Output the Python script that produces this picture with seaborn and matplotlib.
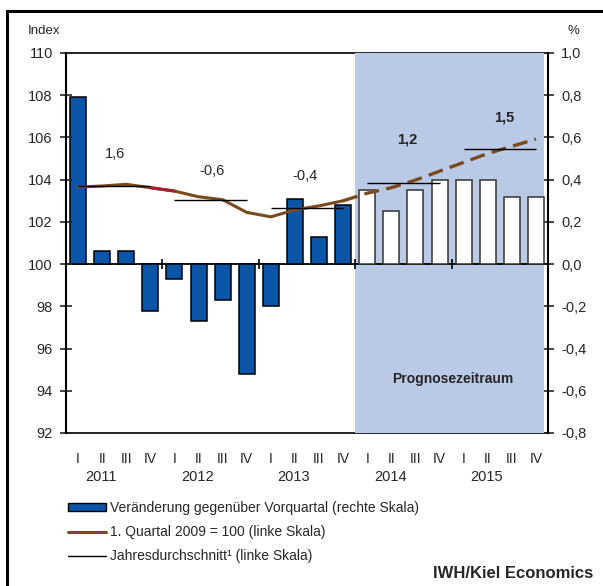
import numpy as np
import pandas as pd
import matplotlib
matplotlib.use('Agg')
import matplotlib.pyplot as plt
import seaborn as sns
from matplotlib.patches import Rectangle, Patch
from matplotlib.lines import Line2D
import matplotlib.transforms as mtransforms

sns.set_style('white')
plt.rcParams['font.family'] = ['Liberation Sans', 'DejaVu Sans']

# data
years = ['2011', '2012', '2013', '2014', '2015']
quarters = ['I', 'II', 'III', 'IV']
# change vs previous quarter in % (right scale)
change = [0.79, 0.06, 0.06, -0.22,
          -0.07, -0.27, -0.17, -0.52,
          -0.20, 0.31, 0.13, 0.28,
          0.35, 0.25, 0.35, 0.40,
          0.40, 0.40, 0.32, 0.32]
# index, Q1 2009 = 100 (left scale)
index = [103.65, 103.70, 103.78, 103.62,
         103.46, 103.19, 103.05, 102.45,
         102.24, 102.57, 102.76, 103.00,
         103.36, 103.62, 103.98, 104.40,
         104.82, 105.24, 105.58, 105.92]
# annual averages (left scale) and annual growth labels
year_avg = [103.70, 103.05, 102.65, 103.84, 105.43]
year_growth = ['1,6', '-0,6', '-0,4', '1,2', '1,5']
n_hist = 12  # quarters before the forecast

df = pd.DataFrame({'pos': np.arange(len(change)), 'change': change, 'index': index})

blue = '#0b55a8'
brown = '#7a4a1c'
shade = '#b9c9e6'

fig = plt.figure(figsize=(6.03, 5.86), dpi=100)
ax = fig.add_axes([66 / 603, 153 / 586, 482 / 603, 380 / 586])
ax2 = ax.twinx()
ax.set_zorder(ax2.get_zorder() + 1)
ax.patch.set_visible(False)

# bars on the right scale
sns.barplot(data=df, x='pos', y='change', ax=ax2, native_scale=True, width=0.66,
            color=blue, saturation=1, edgecolor='black', linewidth=1.1, zorder=3)
for p in ax2.patches[n_hist:]:
    p.set_facecolor('white')
    p.set_edgecolor('#333333')

# forecast shading, frame lines sit underneath it
ax2.axhline(1.0, color='black', lw=1.2, zorder=0, clip_on=False)
ax2.axhline(-0.8, color='black', lw=1.2, zorder=0, clip_on=False)
ax2.axvspan(n_hist - 0.5, 19.35, color=shade, lw=0, zorder=1)
ax2.axhline(0, color='black', lw=1.3, zorder=2)

ax2.set_ylim(-0.8, 1.0)
ax2.set_yticks(np.arange(-0.8, 1.01, 0.2))
ax2.set_yticklabels([f'{v:.1f}'.replace('.', ',').replace('-0,0', '0,0') for v in np.arange(-0.8, 1.01, 0.2)])
ax2.set_ylabel('')
ax2.set_xlabel('')

# index line: solid for history, dashed for forecast
hist = df.iloc[:n_hist]
fc = df.iloc[n_hist - 1:]
sns.lineplot(data=hist, x='pos', y='index', ax=ax, color=brown, lw=2.2, zorder=4)
sns.lineplot(data=df.iloc[3:5], x='pos', y='index', ax=ax, color='#a3202a', lw=2.2, zorder=4)
ax.plot(fc['pos'], fc['index'], color=brown, lw=2.4, dashes=(4.5, 2.2), zorder=4)

# annual averages
for i, avg in enumerate(year_avg):
    ax.hlines(avg, 4 * i, 4 * i + 3, color='black', lw=1.0, zorder=5)

# year boundary marks on the zero line
ax.vlines([3.5, 7.5, 11.5, 15.5], 99.75, 100.25, color='black', lw=1.2, zorder=5)

# growth labels
label_pos = [(1.55, 105.2), (5.55, 104.4), (9.4, 104.15), (13.65, 105.9), (17.7, 106.95)]
for i, (txt, (x, y)) in enumerate(zip(year_growth, label_pos)):
    ax.text(x, y, txt, ha='center', va='center', fontsize=10.5,
            fontweight='bold' if i >= 3 else 'normal')
ax.text(15.55, 94.55, 'Prognosezeitraum', ha='center', va='center', fontsize=10, fontweight='bold')

ax.set_xlim(-0.5, 19.5)
ax.set_ylim(92, 110)
ax.set_yticks(np.arange(92, 111, 2))
ax.set_xticks(np.arange(20))
ax.set_xticklabels(quarters * len(years), family=['Liberation Sans Narrow', 'Liberation Sans'])
ax.set_xlabel('')
ax.set_ylabel('')
ax.tick_params(axis='x', length=0, pad=14, labelsize=10)
ax.tick_params(axis='y', direction='inout', length=9, width=1.2, pad=5, labelsize=10.5)
ax2.tick_params(axis='y', direction='inout', length=9, width=1.2, pad=5, labelsize=10.5)

for s in ['top', 'bottom', 'right']:
    ax.spines[s].set_visible(False)
for s in ['top', 'bottom', 'left']:
    ax2.spines[s].set_visible(False)
ax.spines['left'].set_linewidth(1.5)
ax2.spines['right'].set_linewidth(1.5)
ax.spines['left'].set_color('black')
ax2.spines['right'].set_color('black')

# year labels under the quarters
trans = mtransforms.blended_transform_factory(ax.transData, ax.transAxes)
for i, yr in enumerate(years):
    ax.text(4 * i + 0.95, -0.116, yr, transform=trans, ha='center', va='center', fontsize=10.5)

# axis captions
fig.text(28 / 603, 1 - 31 / 586, 'Index', ha='left', va='center', fontsize=9.5)
fig.text(573 / 603, 1 - 31 / 586, '%', ha='center', va='center', fontsize=9.5)

# legend
handles = [Patch(facecolor=blue, edgecolor='black', lw=1.0),
           Line2D([], [], color=brown, lw=2.2),
           Line2D([], [], color='black', lw=1.0)]
labels = ['Veränderung gegenüber Vorquartal (rechte Skala)',
          '1. Quartal 2009 = 100 (linke Skala)',
          'Jahresdurchschnitt¹ (linke Skala)']
fig.legend(handles, labels, loc='upper left', bbox_to_anchor=(68 / 603, 1 - 501 / 586),
           frameon=False, fontsize=10, handlelength=2.7, handleheight=0.5,
           handletextpad=0.35, labelspacing=0.72, borderpad=0, borderaxespad=0)

fig.text(593 / 603, 1 - 573 / 586, 'IWH/Kiel Economics', ha='right', va='center',
         fontsize=12, fontweight='bold')

# outer frame (only top and left edges fall inside the image)
fig.add_artist(Rectangle((7 / 603, -0.05), 1.0, 1.05 - 11 / 586, transform=fig.transFigure,
                         fill=False, edgecolor='black', lw=2.2))

fig.savefig('out.png', dpi=100)
